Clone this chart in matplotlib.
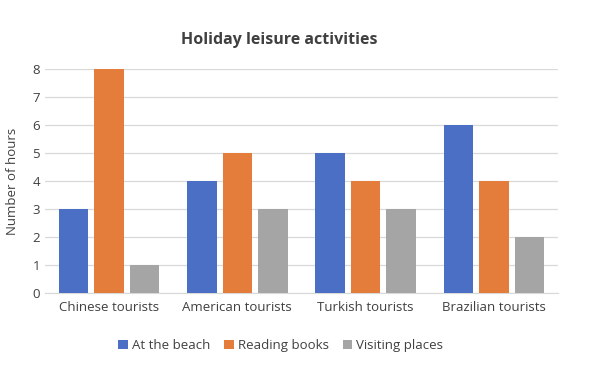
import numpy as np
import matplotlib.pyplot as plt

plt.rcParams['font.family'] = ['Open Sans', 'DejaVu Sans']

categories = ["Chinese tourists", "American tourists", "Turkish tourists", "Brazilian tourists"]
series_names = ["At the beach", "Reading books", "Visiting places"]
beach = [3, 4, 5, 6]
reading = [8, 5, 4, 4]
visiting = [1, 3, 3, 2]
colors = ["#4a6fc4", "#e47d3c", "#a5a5a5"]

fig = plt.figure(figsize=(6, 3.78), dpi=100)
ax = fig.add_axes([0.075, 0.225, 0.855, 0.592])

x = np.arange(len(categories))
width = 0.23
step = 0.277

for i, (vals, name) in enumerate(zip([beach, reading, visiting], series_names)):
    ax.bar(x + (i - 1) * step, vals, width, color=colors[i], label=name, zorder=3)

ax.set_xlim(-0.5, len(categories) - 0.5)
ax.set_ylim(0, 8)
ax.set_yticks(range(0, 9))
ax.set_xticks(x)
ax.set_xticklabels(categories)
ax.tick_params(axis="both", length=0, labelsize=9.5, colors="#404040")
ax.tick_params(axis="x", pad=6)
ax.grid(axis="y", color="#d9d9d9", linewidth=0.9, zorder=0)
for side in ["top", "right", "left"]:
    ax.spines[side].set_visible(False)
ax.spines["bottom"].set_color("#d9d9d9")

ax.set_ylabel("Number of hours", fontsize=9.5, color="#404040")
ax.yaxis.set_label_coords(-0.05, 0.5)
fig.text(0.465, 0.895, "Holiday leisure activities", ha="center", va="center",
         fontsize=11.5, fontweight="bold", color="#404040")

fig.legend(loc="center", bbox_to_anchor=(0.468, 0.085), ncol=3, frameon=False,
           fontsize=9.5, handlelength=0.7, handleheight=0.7, columnspacing=1.1,
           handletextpad=0.3, labelcolor="#404040")

fig.savefig("out.png", dpi=100)
